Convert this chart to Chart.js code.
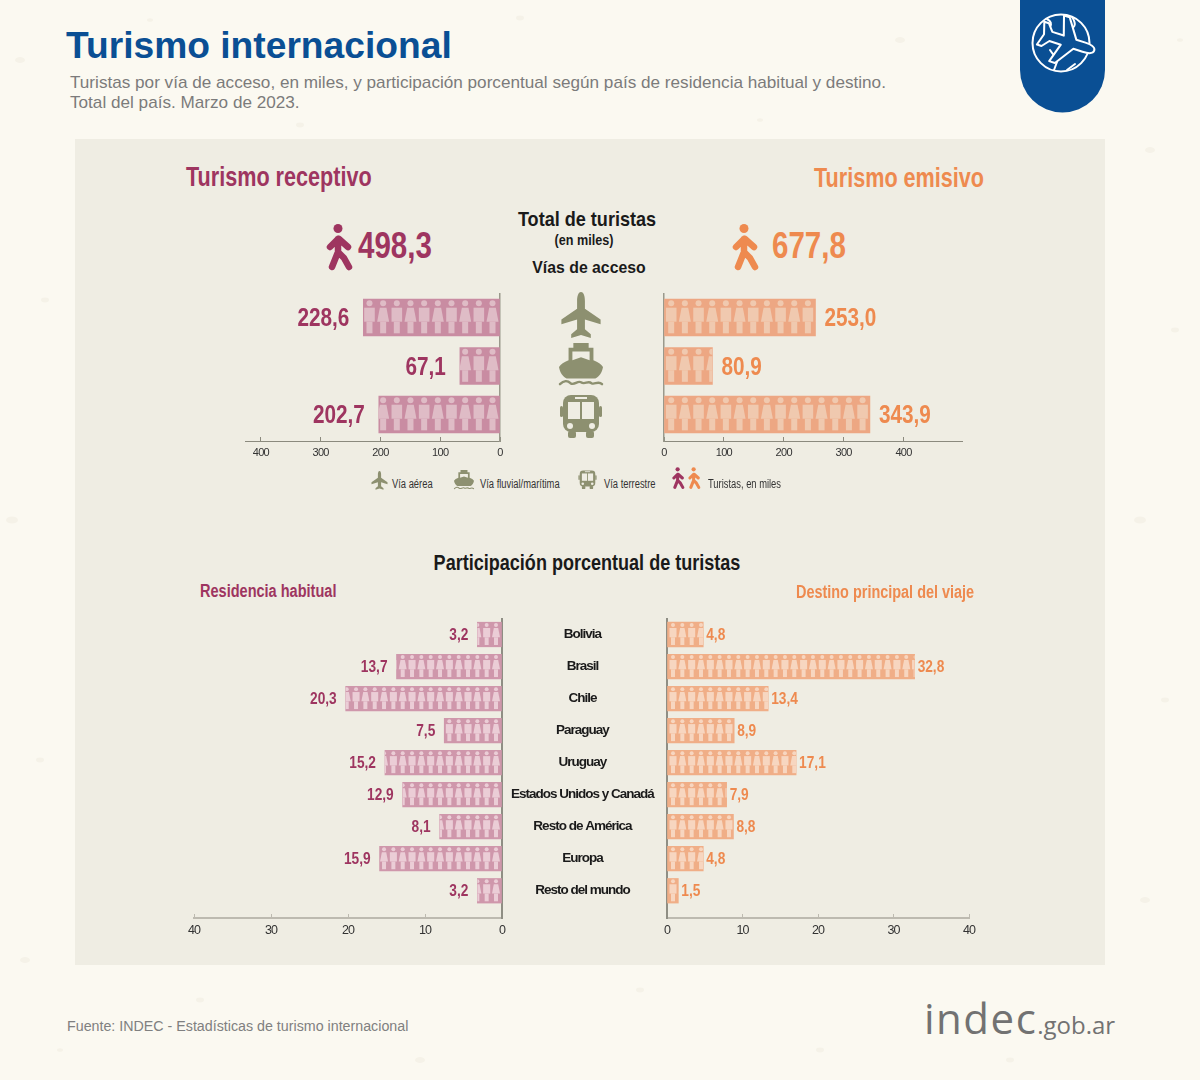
<!DOCTYPE html>
<html lang="es">
<head>
<meta charset="utf-8">
<title>Turismo internacional</title>
<script src="https://cdn.jsdelivr.net/npm/chart.js@4"></script>
<style>
  html, body { margin: 0; background: #fbf9f1; }
  #page { position: relative; width: 1200px; height: 1080px; overflow: hidden; font-family: "Liberation Sans", sans-serif; }
  #page > * { position: absolute; }
  #fondo { left: 0; top: 0; }
  #panel { left: 75px; top: 139px; width: 1030px; height: 826px; background: #efede3; }
  canvas { display: block; }
  .t { white-space: nowrap; line-height: 1; font-weight: 700; transform: translateY(-50%) scaleX(var(--sx, 1)); transform-origin: left center; }
  .c { transform: translate(-50%, -50%) scaleX(var(--sx, 1)); transform-origin: center center; }
  .n { --sx: .82; }
  .sans { font-weight: 400; }
  .rec { color: #9e3560; }
  .emi { color: #ee8a4f; }
  .neg { color: #1a1a1a; }
  .ley { font-size: 12px; font-weight: 400; color: #333; --sx: .78; }
  svg.i { overflow: visible; }
</style>
</head>
<body>
<div id="page">
  <svg id="fondo" width="1200" height="1080"></svg>
  <div id="panel"></div>

  <div class="t" style="left:66px;top:46px;font-size:37.2px;color:#0a4f94">Turismo internacional</div>
  <div class="t sans" style="left:70px;top:82.5px;font-size:17.15px;color:#7b7b7b">Turistas por vía de acceso, en miles, y participación porcentual según país de residencia habitual y destino.</div>
  <div class="t sans" style="left:70px;top:102.5px;font-size:17.15px;color:#7b7b7b">Total del país. Marzo de 2023.</div>

  <svg class="i" style="left:1020px;top:0" width="85" height="113" viewBox="0 0 85 113">
    <path d="M0 0H85V70A42.5 42.5 0 0 1 0 70Z" fill="#0a4f94"/>
    <g fill="none" stroke="#fff" stroke-width="2" stroke-linejoin="round" stroke-linecap="round">
      <circle cx="41" cy="43" r="28.5"/>
      <path d="M27 19c4 2 5 5 3 8l-5 2M52 17c4 6 4 10-2 12M30 50c4 6 7 8 7 12l-3 8M47 70l8-6"/>
      <path transform="translate(48 42) rotate(108) scale(1.2) translate(-22 -23)" stroke-width="1.7" fill="#0a4f94" d="M22 0C25 0 26 5 26 9V17L42 28V33L26 28V38L32 43V47L22 44L12 47V43L18 38V28L2 33V28L18 17V9C18 5 19 0 22 0Z"/>
    </g>
  </svg>

  <div class="t n rec" style="left:186px;top:177px;font-size:27px;--sx:.8">Turismo receptivo</div>
  <div class="t n emi" style="left:814px;top:178px;font-size:27px;--sx:.8">Turismo emisivo</div>
  <div class="t c neg" style="left:587px;top:218px;font-size:21px;--sx:.86">Total de turistas</div>
  <div class="t c neg" style="left:584px;top:240px;font-size:14px;--sx:.9">(en miles)</div>
  <div class="t c neg" style="left:589px;top:267px;font-size:17px;--sx:.93">Vías de acceso</div>

  <svg class="i" style="left:326px;top:224px" width="32" height="46" viewBox="0 0 32 46"><use href="#caminante" color="#9e3560"/></svg>
  <div class="t n rec" style="left:358px;top:246px;font-size:36px" id="totalRec"></div>
  <svg class="i" style="left:732px;top:224px" width="32" height="46" viewBox="0 0 32 46"><use href="#caminante" color="#ee8a4f"/></svg>
  <div class="t n emi" style="left:772px;top:246px;font-size:36px" id="totalEmi"></div>

  <canvas id="vias-rec"></canvas>
  <canvas id="vias-emi"></canvas>
  <canvas id="part-rec"></canvas>
  <canvas id="part-emi"></canvas>

  <svg class="i" style="left:559px;top:292px" width="44" height="49" viewBox="0 0 44 50"><use href="#avion"/></svg>
  <svg class="i" style="left:558px;top:343px" width="46" height="44" viewBox="0 0 46 46"><use href="#barco"/></svg>
  <svg class="i" style="left:560px;top:394px" width="42" height="44" viewBox="0 0 42 44"><use href="#micro"/></svg>

  <svg class="i" style="left:370px;top:471px" width="19" height="20" viewBox="0 0 44 50"><use href="#avion"/></svg>
  <div class="t ley" style="left:392px;top:484px">Vía aérea</div>
  <svg class="i" style="left:453px;top:470px" width="22" height="20" viewBox="0 0 46 46"><use href="#barco"/></svg>
  <div class="t ley" style="left:480px;top:484px">Vía fluvial/marítima</div>
  <svg class="i" style="left:578px;top:470px" width="19" height="19" viewBox="0 0 42 44"><use href="#micro"/></svg>
  <div class="t ley" style="left:604px;top:484px">Vía terrestre</div>
  <svg class="i" style="left:672px;top:467px" width="15" height="22" viewBox="0 0 32 46"><use href="#caminante" color="#9e3560"/></svg>
  <svg class="i" style="left:688px;top:467px" width="15" height="22" viewBox="0 0 32 46"><use href="#caminante" color="#ee8a4f"/></svg>
  <div class="t ley" style="left:708px;top:484px">Turistas, en miles</div>

  <div class="t c n neg" style="left:587px;top:563px;font-size:22px">Participación porcentual de turistas</div>
  <div class="t n rec" style="left:200px;top:592px;font-size:17.5px;--sx:.83">Residencia habitual</div>
  <div class="t n emi" style="left:796px;top:593px;font-size:17.5px;--sx:.825">Destino principal del viaje</div>

  <div class="t sans" style="left:67px;top:1026px;font-size:14.25px;color:#808080">Fuente: INDEC - Estadísticas de turismo internacional</div>
  <div class="t" style="left:924px;top:1017px;font:400 42px 'Open Sans';letter-spacing:1.5px;color:#727272">indec<span style="font-size:24px;letter-spacing:0">.gob.ar</span></div>

  <svg width="0" height="0" style="left:0;top:0">
    <defs>
      <g id="caminante" fill="none" stroke="currentColor" stroke-width="6.5" stroke-linecap="round" stroke-linejoin="round">
        <circle cx="12" cy="4.5" r="4.5" fill="currentColor" stroke="none"/>
        <path d="M12 15L12 28L6 43M12 28L18 34L23 43M12 15L4 23M13 15L22 23"/>
      </g>
      <path id="avion" fill="#8d9070" d="M22 0C25 0 26 5 26 9V17L42 28V33L26 28V38L32 43V47L22 44L12 47V43L18 38V28L2 33V28L18 17V9C18 5 19 0 22 0Z"/>
      <g id="barco">
        <path fill="#8d9070" d="M15 0H31V5H36V18C41 20 44 22 46 25C45 31 42 35 38 37H8C4 35 1 31 0 25C2 22 5 20 10 18V5H15Z"/>
        <path fill="#efede3" d="M14 9H32V18L23 15L14 18Z"/>
        <path fill="none" stroke="#8d9070" stroke-width="2.5" stroke-linecap="round" d="M1 43C5 39 9 39 12 42C16 45 19 39 23 41C27 44 30 39 34 42C37 44 41 39 45 43"/>
      </g>
      <g id="micro">
        <rect x="3" y="1" width="36" height="37" rx="8" fill="#8d9070"/>
        <rect x="0" y="12" width="3" height="11" rx="1.5" fill="#8d9070"/>
        <rect x="39" y="12" width="3" height="11" rx="1.5" fill="#8d9070"/>
        <rect x="8" y="37" width="8" height="7" rx="2" fill="#8d9070"/>
        <rect x="26" y="37" width="8" height="7" rx="2" fill="#8d9070"/>
        <rect x="8" y="8" width="12" height="17" fill="#efede3"/>
        <rect x="22" y="8" width="12" height="17" fill="#efede3"/>
        <rect x="15" y="3" width="12" height="2" fill="#efede3"/>
        <circle cx="10" cy="32" r="3" fill="#efede3"/>
        <circle cx="32" cy="32" r="3" fill="#efede3"/>
      </g>
    </defs>
  </svg>
</div>

<script>
// Vias de acceso, en miles
const vias = ["Vía aérea", "Vía fluvial/marítima", "Vía terrestre"];
const viasReceptivo = [228.6, 67.1, 202.7];
const viasEmisivo = [253.0, 80.9, 343.9];
const totalReceptivo = 498.3;
const totalEmisivo = 677.8;
const ticksVias = [0, 100, 200, 300, 400];

// Participacion porcentual
const paises = ["Bolivia", "Brasil", "Chile", "Paraguay", "Uruguay", "Estados Unidos y Canadá", "Resto de América", "Europa", "Resto del mundo"];
const residencia = [3.2, 13.7, 20.3, 7.5, 15.2, 12.9, 8.1, 15.9, 3.2];
const destino = [4.8, 32.8, 13.4, 8.9, 17.1, 7.9, 8.8, 4.8, 1.5];
const ticksPart = [0, 10, 20, 30, 40];

const coma = (v) => v.toFixed(1).replace(".", ",");
const fuente = "Liberation Sans";

document.getElementById("totalRec").textContent = coma(totalReceptivo);
document.getElementById("totalEmi").textContent = coma(totalEmisivo);

// Manchitas del papel de fondo
const manchas = [[20,60,5],[45,300,4],[12,520,6],[40,760,4],[25,960,5],[150,20,3],[300,125,4],[520,18,4],[760,120,3],[900,40,5],
  [1150,150,5],[1175,330,4],[1140,520,6],[1165,700,4],[1145,900,5],[1180,40,3],[200,1000,4],[420,1060,5],[640,990,4],[820,1050,4],[1010,1060,4],[60,1050,3]];
document.getElementById("fondo").innerHTML = manchas
  .map(([x, y, r]) => `<ellipse cx="${x}" cy="${y}" rx="${r}" ry="${r * 0.6}" fill="#f5f2e8"/>`).join("");

// Silueta de persona: cabeza, cuerpo y piernas
function persona(ctx, cx, top, s, mujer) {
  ctx.beginPath();
  ctx.arc(cx, top + 4.3 * s, 3 * s, 0, Math.PI * 2);
  ctx.fill();
  if (mujer) {
    ctx.beginPath();
    ctx.moveTo(cx - 3.3 * s, top + 8.7 * s);
    ctx.lineTo(cx + 3.3 * s, top + 8.7 * s);
    ctx.lineTo(cx + 6 * s, top + 22.7 * s);
    ctx.lineTo(cx - 6 * s, top + 22.7 * s);
    ctx.fill();
  } else {
    ctx.fillRect(cx - 5.3 * s, top + 8.7 * s, 10.6 * s, 14 * s);
  }
  ctx.fillRect(cx - 3 * s, top + 22.7 * s, 6 * s, 11.6 * s);
}

// Figuras dentro de las barras y etiqueta de valor al final de cada una
const marcas = {
  id: "marcas",
  // no hay fuente angosta instalada: se aprieta el texto de los ejes
  beforeUpdate(chart, args, o) { chart.ctx.letterSpacing = o.espacio; },
  beforeDraw(chart, args, o) { chart.ctx.letterSpacing = o.espacio; },
  afterDatasetsDraw(chart, args, o) {
    const ctx = chart.ctx;
    chart.getDatasetMeta(0).data.forEach((bar, i) => {
      const { x, y, base, height } = bar.getProps(["x", "y", "base", "height"], true);
      const dir = x < base ? -1 : 1;
      const top = y - height / 2;
      const s = height / 37;

      ctx.save();
      ctx.beginPath();
      ctx.rect(Math.min(x, base), top, Math.abs(x - base), height);
      ctx.clip();
      ctx.fillStyle = o.figura;
      for (let n = 0; n * o.paso < Math.abs(x - base) + o.paso; n++) {
        persona(ctx, base + dir * (o.inicio + n * o.paso), top, s, (n % 2 === 0) === (dir < 0));
      }
      ctx.restore();

      ctx.save();
      ctx.letterSpacing = "0px";
      ctx.font = `700 ${o.tam}px '${fuente}'`;
      ctx.fillStyle = o.color;
      ctx.textBaseline = "middle";
      ctx.textAlign = dir < 0 ? "right" : "left";
      ctx.translate(x + dir * o.gap, y + o.dy);
      ctx.scale(0.83, 1);
      ctx.fillText(coma(chart.data.datasets[0].data[i].x), 0, 0);
      ctx.restore();
    });
  }
};

// Un panel de barras. caja = area del grafico en pixeles de la pagina
function panel(id, cats, valores, ticks, o) {
  const lado = 30;
  const alto = o.caja.bottom - o.caja.top;
  const ancho = o.caja.right - o.caja.left;
  const canvas = document.getElementById(id);
  canvas.width = ancho + lado + (o.etiquetas || lado);
  canvas.height = alto + 4 + 28;
  canvas.style.left = (o.caja.left - lado) + "px";
  canvas.style.top = (o.caja.top - 4) + "px";

  new Chart(canvas, {
    type: "bar",
    data: {
      labels: cats,
      datasets: [{
        data: valores.map((v, i) => ({ x: v, y: i })),
        backgroundColor: o.barra,
        barThickness: o.grosor,
        borderWidth: 0
      }]
    },
    options: {
      indexAxis: "y",
      responsive: false,
      animation: false,
      layout: { padding: { left: lado, right: o.etiquetas ? 0 : lado, top: 4, bottom: 0 } },
      plugins: {
        legend: { display: false },
        tooltip: { enabled: false },
        marcas: { figura: o.figura, paso: o.paso, inicio: o.inicio, tam: o.tam, color: o.color, gap: o.gap, dy: o.dy, espacio: o.espacio }
      },
      scales: {
        x: {
          type: "linear",
          reverse: o.invertido,
          min: 0,
          max: o.maximo,
          afterBuildTicks: (s) => { s.ticks = ticks.map((value) => ({ value })); },
          afterFit: (s) => { s.height = 28; s.paddingLeft = 0; s.paddingRight = 0; },
          border: { display: true, color: o.colorEje, width: o.anchoEje },
          grid: { drawOnChartArea: false, drawTicks: true, tickLength: -4, color: o.colorEje, tickWidth: 1 },
          ticks: { padding: o.padTick, maxRotation: 0, autoSkip: false, color: "#333", font: { family: fuente, size: o.tamTick } }
        },
        y: {
          type: "linear",
          offset: false,
          reverse: true,
          position: o.invertido ? "right" : "left",
          min: o.yMin,
          max: o.yMax,
          afterBuildTicks: (s) => { s.ticks = cats.map((c, i) => ({ value: i })); },
          afterFit: (s) => { s.width = o.etiquetas || 0; s.paddingTop = 0; s.paddingBottom = 0; },
          border: { display: true, color: o.colorY, width: o.anchoY },
          grid: { display: false, drawTicks: false, offset: false },
          ticks: o.etiquetas
            ? { display: true, autoSkip: false, crossAlign: "center", padding: 9, color: "#1a1a1a",
                font: { family: fuente, size: 13.5, weight: "700" },
                callback: (v) => cats[v] }
            : { display: false }
        }
      }
    },
    plugins: [marcas]
  });
}

const arribaY = { top: 294, bottom: 441 };
const abajoY = { top: 619, bottom: 918 };
const arribaRango = { yMin: -0.4845, yMax: 2.546 };
const abajoRango = { yMin: -0.484, yMax: 8.85 };
const estiloArriba = { grosor: 37, paso: 13.67, tam: 25, dy: 2, tamTick: 11, padTick: 9, colorEje: "#8b8a7e", anchoEje: 1, colorY: "#9a998c", anchoY: 1.5, espacio: "-0.7px" };
const estiloAbajo = { grosor: 24.6, paso: 9.33, inicio: 5.5, tam: 16.5, dy: 1, tamTick: 12.5, padTick: 9, colorEje: "#bdbab0", anchoEje: 2, colorY: "#8f8e84", anchoY: 2, espacio: "-1px" };
const recArriba = { barra: "#c98ca2", figura: "#dfbcc6", color: "#9e3560" };
const emiArriba = { barra: "#eda783", figura: "#f0c9af", color: "#ee8a4f" };
const recAbajo = { barra: "#cf97ab", figura: "#ebcdd6", color: "#9e3560" };
const emiAbajo = { barra: "#f0ae87", figura: "#f7d6c0", color: "#ee8a4f" };

panel("vias-rec", vias, viasReceptivo, ticksVias, { ...estiloArriba, ...recArriba, ...arribaRango, invertido: true, maximo: 426.5, inicio: 7, gap: 14,
  caja: { left: 245, right: 500.5, ...arribaY } });
panel("vias-emi", vias, viasEmisivo, ticksVias, { ...estiloArriba, ...emiArriba, ...arribaRango, invertido: false, maximo: 497.7, inicio: 6.7, gap: 9,
  caja: { left: 663.5, right: 962, ...arribaY } });
panel("part-rec", paises, residencia, ticksPart, { ...estiloAbajo, ...recAbajo, ...abajoRango, invertido: true, maximo: 40, gap: 9, etiquetas: 162,
  caja: { left: 194, right: 502, ...abajoY } });
panel("part-emi", paises, destino, ticksPart, { ...estiloAbajo, ...emiAbajo, ...abajoRango, invertido: false, maximo: 40, gap: 3,
  caja: { left: 667, right: 969, ...abajoY } });
</script>
</body>
</html>
